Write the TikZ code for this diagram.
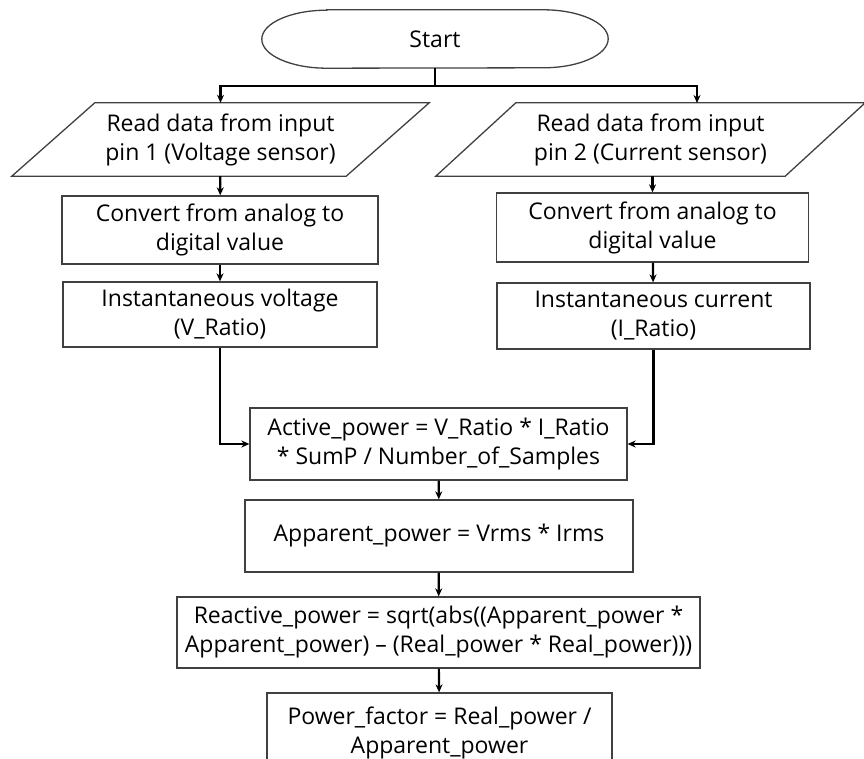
\documentclass[tikz,border=0pt]{standalone}
\usepackage{fontspec}
\setmainfont{Open Sans}
\usetikzlibrary{arrows.meta}
\def\slantbox#1#2{\draw[edge] ([xshift=#2]#1.north west) -- ([xshift=#2]#1.north east) -- ([xshift=-#2]#1.south east) -- ([xshift=-#2]#1.south west) -- cycle;}

\begin{document}
\begin{tikzpicture}[x=1pt,y=-1pt,
    txt/.style={align=center, inner sep=0pt, font=\fontsize{23}{29}\selectfont},
    box/.style={txt, draw=black!75, line width=1.3pt},
    edge/.style={draw=black!75, line width=1.3pt},
    line/.style={draw=black, line width=2.2pt},
    arr/.style={line, -{Stealth[length=8pt,width=7pt]}}]
  \useasboundingbox (0,0) rectangle (864,759);
  \clip (0,0) rectangle (864,759);
  % start
  \node[txt, minimum width=346, minimum height=58] (start) at (435,39) {Start};
  \draw[edge] ([xshift=65]start.north west) -- ([xshift=-65]start.north east)
    arc[start angle=90, end angle=-90, x radius=65pt, y radius=29pt]
    -- ([xshift=65]start.south west)
    arc[start angle=270, end angle=90, x radius=65pt, y radius=29pt] -- cycle;
  % inputs
  \node[txt, minimum width=334, minimum height=73] (in1) at (220.5,139.5) {Read data from input\\pin 1 (Voltage sensor)};
  \node[txt, minimum width=349, minimum height=73] (in2) at (650.5,139.5) {Read data from input\\pin 2 (Current sensor)};
  \slantbox{in1}{41.5}
  \slantbox{in2}{40}
  % left column
  \node[box, minimum width=316, minimum height=68] (conv1) at (220,230) {Convert from analog to\\digital value};
  \node[box, minimum width=314, minimum height=65] (inst1) at (220,314.5) {Instantaneous voltage\\(V\_Ratio)};
  % right column
  \node[box, minimum width=312, minimum height=69] (conv2) at (652.5,227.5) {Convert from analog to\\digital value};
  \node[box, minimum width=313, minimum height=66] (inst2) at (653.5,316) {Instantaneous current\\(I\_Ratio)};
  % power calculations
  \node[box, minimum width=377, minimum height=72] (active) at (438.5,444) {Active\_power = V\_Ratio * I\_Ratio\\* SumP / Number\_of\_Samples};
  \node[box, minimum width=388, minimum height=72] (apparent) at (439,536) {Apparent\_power = Vrms * Irms};
  \node[box, minimum width=523, minimum height=71] (reactive) at (438.5,632.5) {Reactive\_power = sqrt(abs((Apparent\_power *\\Apparent\_power) – (Real\_power * Real\_power)))};
  \node[box, minimum width=345, minimum height=80] (pf) at (439.5,733) {Power\_factor = Real\_power /\\Apparent\_power};
  % connectors
  \coordinate (junc) at (435,86);
  \coordinate (in2top) at (697,103);
  \draw[line] (start) -- (junc);
  \draw[arr] (junc) -| (in1);
  \draw[arr] (junc) -| (in2top);
  \draw[arr] (in1) -- (conv1);
  \draw[arr] (conv1) -- (inst1);
  \draw[arr] (conv2.north |- in2.south) -- (conv2);
  \draw[arr] (conv2) -- (inst2);
  \draw[arr] (inst1) |- (active);
  \draw[arr] (inst2) |- (active);
  \draw[arr] (active) -- (apparent);
  \draw[arr] (apparent) -- (reactive);
  \draw[arr] (reactive) -- (pf);
\end{tikzpicture}
\end{document}
